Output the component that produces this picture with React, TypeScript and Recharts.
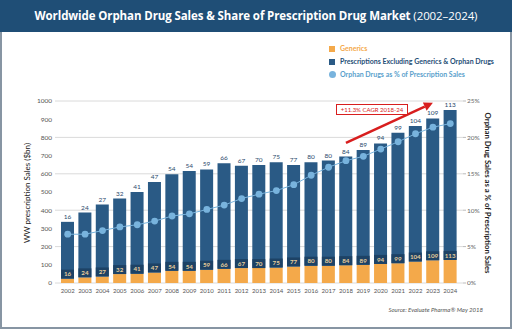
import React from "react";
import {
  ComposedChart,
  Bar,
  Line,
  XAxis,
  YAxis,
  CartesianGrid,
  LabelList,
  ReferenceLine,
} from "recharts";

const years = [
  "2002", "2003", "2004", "2005", "2006", "2007", "2008", "2009", "2010", "2011", "2012", "2013",
  "2014", "2015", "2016", "2017", "2018", "2019", "2020", "2021", "2022", "2023", "2024",
];
// $bn
const generics = [24, 31, 36, 49, 51, 58, 67, 67, 73, 78, 82, 82, 85, 91, 95, 95, 98, 100, 105, 109, 118, 125, 127];
const otherRx = [312, 356, 395, 415, 449, 497, 531, 548, 551, 580, 562, 567, 579, 558, 569, 578, 597, 631, 662, 716, 744, 779, 824];
const orphanSales = [16, 24, 27, 32, 41, 47, 54, 54, 59, 66, 67, 70, 75, 77, 80, 80, 84, 89, 94, 99, 104, 109, 113];
// % of prescription sales, right axis
const orphanShare = [6.7, 6.7, 7.2, 7.7, 8.0, 8.5, 9.2, 9.5, 10.1, 10.7, 11.6, 12.2, 12.7, 13.5, 14.8, 15.9, 16.8, 17.4, 18.4, 19.4, 20.5, 21.4, 21.9];

const leftTicks = [0, 100, 200, 300, 400, 500, 600, 700, 800, 900, 1000];
const rightTicks = [0, 5, 10, 15, 20, 25];

const NAVY = "#1f4e76";
const BLUE = "#2a5a85";
const ORANGE = "#f4a94a";
const LIGHT = "#78b3dd";
const FONT = "Lato, 'Open Sans', sans-serif";

const data = years.map((year, i) => ({
  year,
  generics: generics[i],
  other: otherRx[i],
  orphan: orphanSales[i],
  share: orphanShare[i],
}));

function InnerLabel(props: any) {
  const { x, y, width, value } = props;
  return (
    <g>
      <rect x={x} y={y - 9} width={width} height={9} fill="#1d4265" />
      <text
        x={x + width / 2}
        y={y - 2.3}
        textAnchor="middle"
        fontSize={6.2}
        fontWeight={700}
        fill="#e8cf9c"
        fontFamily={FONT}
      >
        {value}
      </text>
    </g>
  );
}

function Arrow(props: any) {
  const { x1, y1, x2, y2 } = props;
  const ang = Math.atan2(y2 - y1, x2 - x1);
  const len = 9;
  const half = 4.5;
  const bx = x2 - len * Math.cos(ang);
  const by = y2 - len * Math.sin(ang);
  const px = -Math.sin(ang) * half;
  const py = Math.cos(ang) * half;
  return (
    <g>
      <line x1={x1} y1={y1} x2={bx} y2={by} stroke="#d81e1e" strokeWidth={2.6} />
      <polygon
        points={`${x2},${y2} ${bx + px},${by + py} ${bx - px},${by - py}`}
        fill="#d81e1e"
      />
    </g>
  );
}

export default function App() {
  return (
    <div
      style={{
        position: "relative",
        width: 512,
        height: 329,
        background: "#fff",
        fontFamily: FONT,
        overflow: "hidden",
      }}
    >
      <style>{"body{margin:0}"}</style>
      <div
        style={{
          position: "absolute",
          left: 0,
          top: 32,
          width: 508,
          height: 295,
          border: "2px solid #8795a3",
          borderTop: "none",
          boxSizing: "content-box",
        }}
      />
      <div
        style={{
          position: "absolute",
          left: 0,
          top: 0,
          width: 512,
          height: 32,
          background: NAVY,
          color: "#fff",
          fontFamily: "'Open Sans', sans-serif",
          fontSize: 11.5,
          fontWeight: 700,
          lineHeight: "32px",
          textAlign: "center",
          letterSpacing: -0.1,
        }}
      >
        Worldwide Orphan Drug Sales &amp; Share of Prescription Drug Market{" "}
        <span style={{ fontWeight: 400 }}>(2002–2024)</span>
      </div>

      <div style={{ position: "absolute", left: 329, top: 42, fontSize: 7, fontWeight: 700, lineHeight: "13px" }}>
        <div style={{ display: "flex", alignItems: "center", color: ORANGE }}>
          <span style={{ width: 6, height: 6, background: ORANGE, marginRight: 5, display: "inline-block" }} />
          Generics
        </div>
        <div style={{ display: "flex", alignItems: "center", color: NAVY }}>
          <span style={{ width: 6, height: 6, background: BLUE, marginRight: 5, display: "inline-block" }} />
          Prescriptions Excluding Generics &amp; Orphan Drugs
        </div>
        <div style={{ display: "flex", alignItems: "center", color: "#5a9fcc" }}>
          <span
            style={{ width: 7, height: 7, borderRadius: "50%", background: LIGHT, marginRight: 4, display: "inline-block" }}
          />
          Orphan Drugs as % of Prescription Sales
        </div>
      </div>

      <div style={{ position: "absolute", left: 0, top: 0 }}>
        <ComposedChart
          width={512}
          height={329}
          data={data}
          margin={{ top: 101, right: 0, bottom: 30, left: 0 }}
          barSize={13}
        >
          <CartesianGrid yAxisId="left" vertical={false} stroke="#dadada" strokeWidth={1} />
          <XAxis
            dataKey="year"
            interval={0}
            padding={{ left: 4, right: 4 }}
            height={16}
            tickLine={false}
            axisLine={false}
            tickSize={3}
            tickMargin={3}
            tick={{ fontSize: 6, fill: "#555", fontFamily: FONT }}
          />
          <YAxis
            yAxisId="left"
            width={55}
            domain={[0, 1000]}
            ticks={leftTicks}
            tickLine={false}
            axisLine={false}
            tickSize={1}
            tickMargin={2}
            tick={{ fontSize: 6.5, fill: "#555", fontFamily: FONT }}
          />
          <YAxis
            yAxisId="right"
            orientation="right"
            width={49}
            domain={[0, 25]}
            ticks={rightTicks}
            tickFormatter={(v) => `${v}%`}
            axisLine={false}
            tickLine={{ stroke: "#bbb" }}
            tickSize={3}
            tickMargin={1}
            tick={{ fontSize: 6.5, fill: "#666", fontFamily: FONT }}
          />
          <Bar yAxisId="left" dataKey="generics" stackId="rx" fill={ORANGE} isAnimationActive={false}>
            <LabelList dataKey="orphan" content={InnerLabel} />
          </Bar>
          <Bar yAxisId="left" dataKey="other" stackId="rx" fill={BLUE} isAnimationActive={false}>
            <LabelList
              dataKey="orphan"
              position="top"
              offset={3}
              style={{ fontSize: 6.5, fill: "#2b4a6c", fontFamily: FONT }}
            />
          </Bar>
          <Line
            yAxisId="right"
            dataKey="share"
            stroke={LIGHT}
            strokeWidth={1}
            dot={{ r: 3.4, fill: LIGHT, stroke: "none" }}
            isAnimationActive={false}
          />
          <ReferenceLine
            yAxisId="left"
            segment={[
              { x: "2018", y: 770 },
              { x: "2023", y: 990 },
            ]}
            shape={Arrow}
            ifOverflow="visible"
          />
        </ComposedChart>
      </div>

      <div
        style={{
          position: "absolute",
          left: 336,
          top: 104,
          width: 70,
          height: 9,
          border: "1px solid #d81e1e",
          background: "#fff",
          color: "#d81e1e",
          fontSize: 6,
          lineHeight: "9px",
          textAlign: "center",
          whiteSpace: "nowrap",
        }}
      >
        +11.3% CAGR 2018-24
      </div>

      <div
        style={{
          position: "absolute",
          left: 27,
          top: 193,
          transform: "translate(-50%, -50%) rotate(-90deg)",
          fontSize: 8,
          color: "#222",
          whiteSpace: "nowrap",
        }}
      >
        WW prescription Sales ($bn)
      </div>
      <div
        style={{
          position: "absolute",
          left: 488,
          top: 193,
          transform: "translate(-50%, -50%) rotate(90deg)",
          fontSize: 7.8,
          fontWeight: 700,
          color: "#222",
          whiteSpace: "nowrap",
        }}
      >
        Orphan Drug Sales as a % of Prescription Sales
      </div>
      <div
        style={{
          position: "absolute",
          right: 29,
          top: 306,
          fontSize: 6,
          fontStyle: "italic",
          color: "#555",
          whiteSpace: "nowrap",
        }}
      >
        Source: Evaluate Pharma® May 2018
      </div>
    </div>
  );
}
